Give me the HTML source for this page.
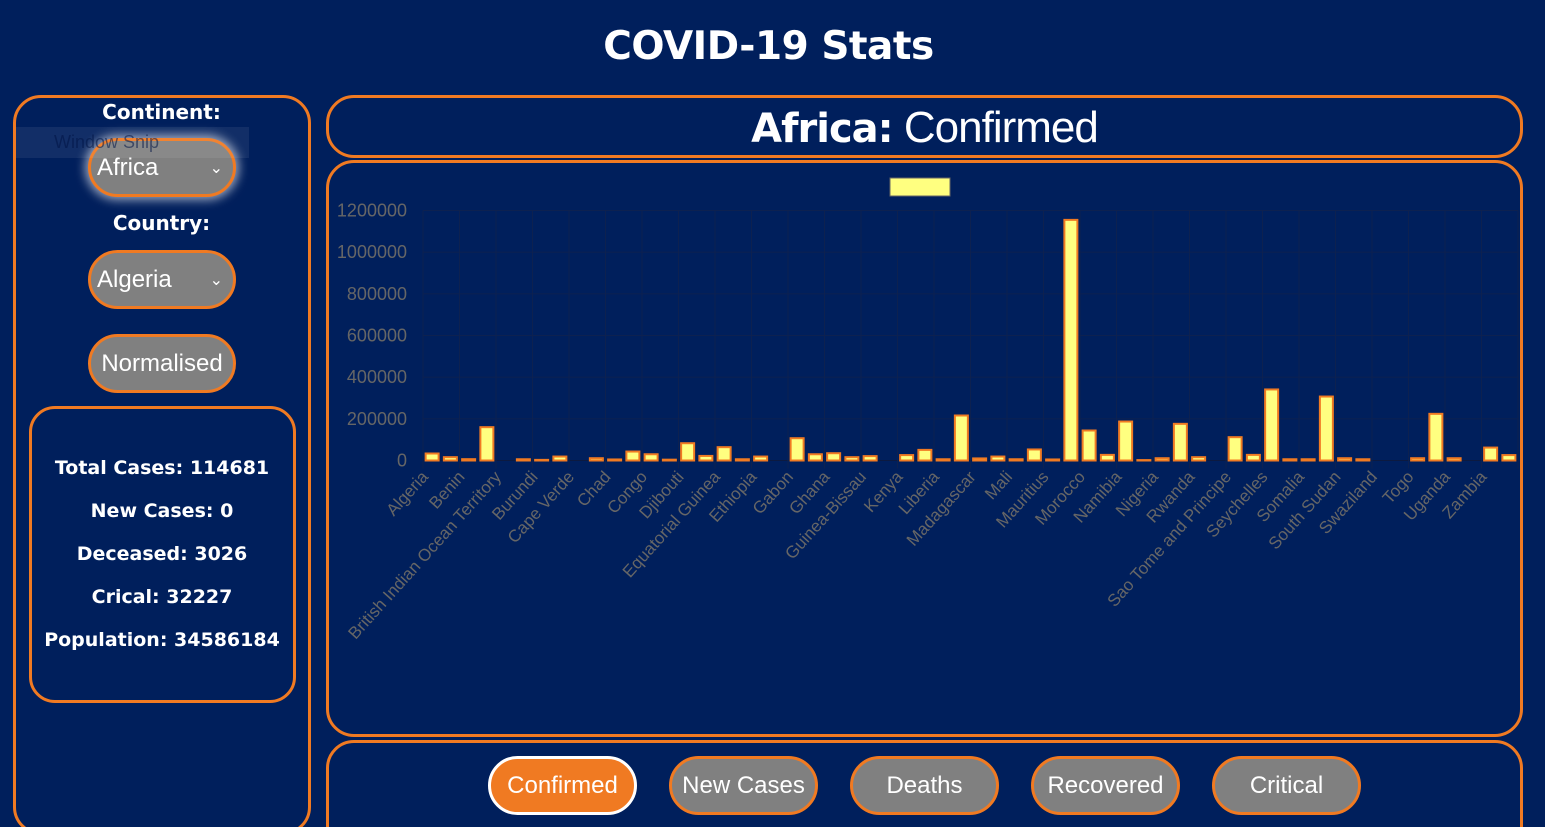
<!DOCTYPE html>
<html><head><meta charset="utf-8"><style>
*{box-sizing:border-box;margin:0;padding:0}
html{width:1545px;height:827px;overflow:hidden}
body{width:1545px;height:827px;background:#001f5c;overflow:hidden;position:relative;font-family:"DejaVu Sans","Liberation Sans",sans-serif;color:#fff}
.abs{position:absolute}
.panel{position:absolute;border:3px solid #f07a22;border-radius:28px}
.pill{position:absolute;border:3px solid #f07a22;border-radius:30px;background:#808080;color:#fff;font-family:"Liberation Sans",sans-serif;font-size:24px;display:flex;align-items:center;justify-content:center}
.lbl{position:absolute;width:297px;left:13px;text-align:center;font-weight:bold;font-size:20px}
.stat{position:absolute;left:29px;width:266px;text-align:center;font-weight:bold;font-size:19px}
</style></head><body>
<div class="abs" style="left:0;width:1537px;top:24px;text-align:center;font-size:39px;font-weight:bold;letter-spacing:-0.5px">COVID-19 Stats</div>

<div class="panel" style="left:13px;top:95px;width:298px;height:740px"></div>
<div class="lbl" style="top:100px">Continent:</div>
<div class="pill" style="left:88px;top:138px;width:148px;height:59px;justify-content:flex-start;padding-left:6px;box-shadow:0 0 10px 3px rgba(255,255,255,0.6)">Africa<span style="position:absolute;right:10px;font-size:16px">&#8964;</span></div>
<div class="abs" style="left:16px;top:127px;width:233px;height:31px;background:rgba(255,255,255,0.07);color:rgba(0,20,70,0.55);font-family:'Liberation Sans',sans-serif;font-size:18px;padding:5px 0 0 38px">Window Snip</div>
<div class="lbl" style="top:211px">Country:</div>
<div class="pill" style="left:88px;top:250px;width:148px;height:59px;justify-content:flex-start;padding-left:6px">Algeria<span style="position:absolute;right:10px;font-size:16px">&#8964;</span></div>
<div class="pill" style="left:88px;top:334px;width:148px;height:59px">Normalised</div>
<div class="panel" style="left:29px;top:406px;width:267px;height:297px;border-radius:26px"></div>
<div class="stat" style="top:457px">Total Cases: 114681</div>
<div class="stat" style="top:500px">New Cases: 0</div>
<div class="stat" style="top:543px">Deceased: 3026</div>
<div class="stat" style="top:586px">Crical: 32227</div>
<div class="stat" style="top:629px">Population: 34586184</div>

<div class="panel" style="left:326px;top:95px;width:1197px;height:63px"></div>
<div class="abs" style="left:326px;width:1197px;top:103px;text-align:center;font-size:40px;letter-spacing:-1px"><b>Africa:</b><span style="font-family:'Liberation Sans',sans-serif;font-weight:normal;font-size:44px"> Confirmed</span></div>

<div class="panel" style="left:326px;top:160px;width:1197px;height:577px"></div>
<svg id="chart" class="abs" style="left:0;top:0" width="1545" height="827"></svg>

<div class="panel" style="left:326px;top:740px;width:1197px;height:120px"></div>
<div class="pill" style="left:488px;top:756px;width:149px;height:59px;background:#f07a22;border-color:#fff">Confirmed</div>
<div class="pill" style="left:669px;top:756px;width:149px;height:59px">New Cases</div>
<div class="pill" style="left:850px;top:756px;width:149px;height:59px">Deaths</div>
<div class="pill" style="left:1031px;top:756px;width:149px;height:59px">Recovered</div>
<div class="pill" style="left:1212px;top:756px;width:149px;height:59px">Critical</div>

<script>
const categories=["Algeria","Angola","Benin","Botswana","British Indian Ocean Territory","Burkina Faso","Burundi","Cameroon","Cape Verde","Central African Republic","Chad","Comoros","Congo","Cote d'Ivoire","Djibouti","Egypt","Equatorial Guinea","Eritrea","Ethiopia","Eswatini","Gabon","Gambia","Ghana","Guinea","Guinea-Bissau","Ivory Coast","Kenya","Lesotho","Liberia","Libya","Madagascar","Malawi","Mali","Mauritania","Mauritius","Mayotte","Morocco","Mozambique","Namibia","Niger","Nigeria","Reunion","Rwanda","Saint Helena","Sao Tome and Principe","Senegal","Seychelles","Sierra Leone","Somalia","South Africa","South Sudan","Sudan","Swaziland","Tanzania","Togo","Tunisia","Uganda","Western Sahara","Zambia","Zimbabwe"];
const values=[33600,16000,6400,160000,0,6000,3000,19000,0,11000,5000,43000,30000,4000,83000,22000,64000,6000,19000,0,107000,30000,35000,16000,21000,0,26000,51000,6000,216000,10000,19000,6000,53000,5000,1155000,144000,27000,187000,2000,11000,176000,16000,0,112000,27000,341000,6000,6000,307000,11000,6000,0,0,11000,224000,11000,0,62000,26000];
const yTicks=[0,200000,400000,600000,800000,1000000,1200000];
const NS="http://www.w3.org/2000/svg";
const svg=document.getElementById('chart');
const X0=423,X1=1518,Y0=460.5,Y1=210.5,YMAX=1200000;
const step=(X1-X0)/categories.length;
function xPos(i){return X0+step*(i+0.5);}
function yPos(v){return Y0-(v/YMAX)*(Y0-Y1);}
function mk(t,a){const e=document.createElementNS(NS,t);for(const k in a)e.setAttribute(k,a[k]);svg.appendChild(e);return e;}
yTicks.forEach(function(t){
  const g=mk('line',{x1:X0,x2:X1,y1:yPos(t),y2:yPos(t),stroke:t===0?'#0c1a40':'#0d2150','stroke-width':1});
  
  
  const tx=mk('text',{x:407,y:yPos(t)+6,'text-anchor':'end','font-family':'Liberation Sans, sans-serif','font-size':18,fill:'#666'});
  tx.textContent=t;
  
  
});
for(let i=0;i<=categories.length;i+=2){
  const x=X0+step*i;
  const g=mk('line',{x1:x,x2:x,y1:Y1,y2:Y0+8,stroke:'#0d2150','stroke-width':1});
  
  
}
categories.forEach(function(c,i){
  const v=values[i];
  if(v>0){
    const b=mk('rect',{x:xPos(i)-6.5,y:yPos(v),width:13,height:Y0-yPos(v),fill:'#ffff80',stroke:'#f07a22','stroke-width':2});
    
    
  }
  if(i%2===0){
    const x=xPos(i)-3,y=Y0+17;
    const t=mk('text',{x:x,y:y,'text-anchor':'end','font-family':'Liberation Sans, sans-serif','font-size':17,fill:'#666',transform:'rotate(-48 '+x+' '+y+')'});
    t.textContent=c;
    
    
  }
});
const lg=mk('rect',{x:890,y:178,width:60,height:18,fill:'#ffff80',stroke:'#666','stroke-width':1});


</script>
</body></html>
